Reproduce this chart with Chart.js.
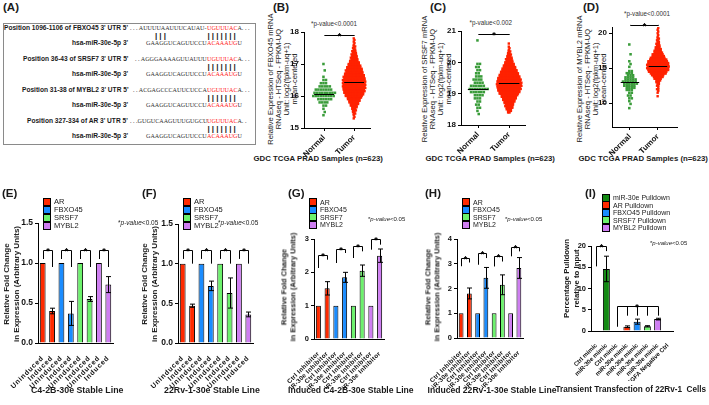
<!DOCTYPE html>
<html>
<head>
<meta charset="utf-8">
<script src="https://cdn.jsdelivr.net/npm/chart.js@4.4.1/dist/chart.umd.min.js"></script>
<style>
  body { margin: 0; background: #fff; }
  #fig { position: relative; width: 709px; height: 405px; overflow: hidden; font-family: "Liberation Sans", Arial, sans-serif; color: #1a1a1a; }
  #fig canvas { position: absolute; left: 0; top: 0; }
  .t { position: absolute; white-space: nowrap; line-height: 1; }
  .seq { font-family: "Liberation Serif", "Times New Roman", serif; font-size: 6.1px; color: #333; }
  .red { color: #ff2020; }
  .pipes { font-weight: bold; font-size: 8px; letter-spacing: 2.1px; }
  .box { position: absolute; left: 3px; top: 23px; width: 251px; height: 120px; border: 1px solid #8a8a8a; }
  .lg { position: absolute; width: 6px; height: 6px; border: 1px solid #000; }
</style>
</head>
<body>
<div id="fig"></div>
<script>
// ---- data ----
const genes = ['AR', 'FBXO45', 'SRSF7', 'MYBL2'];
const pulldownSeries = ['miR-30e Pulldown', 'AR Pulldown', 'FBXO45 Pulldown', 'SRSF7 Pulldown', 'MYBL2 Pulldown'];
const tcgaGroups = ['Normal', 'Tumor'];

// TCGA swarms: expression level rows and number of samples on each row
const fbxoNormalLevels = [17.0, 16.8, 16.6, 16.5, 16.4, 16.3, 16.2, 16.1, 16.0, 15.9, 15.8, 15.7, 15.6, 15.5, 15.4];
const fbxoNormalCounts = [1, 1, 1, 2, 3, 5, 7, 9, 9, 6, 4, 2, 1, 1, 1];
const fbxoTumorLevels = [15.30, 15.35, 15.40, 15.45, 15.50, 15.55, 15.60, 15.65, 15.70, 15.75,
  15.80, 15.85, 15.90, 15.95, 16.00, 16.05, 16.10, 16.15, 16.20, 16.25,
  16.30, 16.35, 16.40, 16.45, 16.50, 16.55, 16.60, 16.65, 16.70, 16.75,
  16.80, 16.85, 16.90, 16.95, 17.00, 17.05, 17.10, 17.15, 17.20, 17.25,
  17.30, 17.35, 17.40, 17.45, 17.50, 17.55, 17.60, 17.65, 17.70, 17.75, 17.80];
const fbxoTumorCounts = [1, 1, 1, 2, 2, 3, 3, 4, 5, 6,
  7, 8, 9, 10, 12, 13, 14, 15, 15, 16,
  16, 16, 16, 16, 16, 15, 15, 14, 13, 12,
  12, 11, 10, 9, 8, 7, 6, 5, 5, 4,
  4, 3, 3, 2, 2, 2, 1, 1, 1, 1, 1];
const fbxoMedians = [16.07, 16.43];

const srsfNormalLevels = [20.7, 19.95, 19.85, 19.75, 19.65, 19.55, 19.45, 19.35, 19.25, 19.15, 19.05, 18.95, 18.85, 18.75, 18.65, 18.55, 18.45, 18.35];
const srsfNormalCounts = [1, 2, 2, 2, 2, 3, 4, 4, 6, 8, 6, 4, 3, 2, 2, 2, 1, 1];
const srsfTumorLevels = [18.40, 18.45, 18.50, 18.55, 18.60, 18.65, 18.70, 18.75, 18.80, 18.85,
  18.90, 18.95, 19.00, 19.05, 19.10, 19.15, 19.20, 19.25, 19.30, 19.35,
  19.40, 19.45, 19.50, 19.55, 19.60, 19.65, 19.70, 19.75, 19.80, 19.85,
  19.90, 19.95, 20.00, 20.05, 20.10, 20.15, 20.20, 20.25, 20.30, 20.35,
  20.40, 20.45, 20.50, 20.55, 20.60];
const srsfTumorCounts = [2, 3, 4, 5, 6, 6, 7, 8, 9, 10,
  11, 12, 14, 15, 16, 17, 17, 18, 18, 18,
  17, 17, 16, 15, 14, 13, 12, 11, 10, 9,
  8, 7, 6, 5, 5, 4, 3, 3, 2, 2,
  1, 1, 1, 0, 1];
const srsfMedians = [19.15, 19.33];

const mybNormalLevels = [18.4, 17.0, 16.0, 15.6, 15.2, 14.6, 14.3, 14.0, 13.7, 13.4, 13.1, 12.8, 12.5, 12.2, 11.9, 11.5, 11.1, 10.7, 10.3, 9.9, 9.3];
const mybNormalCounts = [1, 1, 1, 1, 1, 2, 3, 3, 4, 5, 6, 6, 5, 4, 3, 2, 2, 2, 1, 1, 1];
const mybTumorLevels = [11.00, 11.25, 11.50, 11.75, 12.00, 12.25, 12.50, 12.75, 13.00, 13.25,
  13.50, 13.75, 14.00, 14.25, 14.50, 14.75, 15.00, 15.25, 15.50, 15.75,
  16.00, 16.25, 16.50, 16.75, 17.00, 17.25, 17.50, 17.75, 18.00, 18.25,
  18.50, 18.75, 19.00, 19.25, 19.50, 19.75, 20.00, 20.25, 20.50, 20.75];
const mybTumorCounts = [1, 0, 1, 1, 2, 1, 2, 2, 3, 4,
  6, 8, 10, 13, 15, 17, 18, 18, 18, 17,
  16, 14, 12, 10, 9, 7, 6, 5, 4, 3,
  3, 2, 2, 2, 1, 1, 1, 1, 1, 1];
const mybMedians = [13.04, 15.3];
const mybTicks = [10, 15, 20];

// qPCR bars
const stableLabels = ['Uninduced', 'Induced', 'Uninduced', 'Induced', 'Uninduced', 'Induced', 'Uninduced', 'Induced'];
const c42bStable = [1, 0.40, 1, 0.37, 1, 0.55, 1, 0.73];
const c42bStableErr = [0, 0.035, 0, 0.15, 0, 0.03, 0, 0.10];
const rv1Stable = [1, 0.47, 1, 0.72, 1, 0.63, 1, 0.36];
const rv1StableErr = [0, 0.02, 0, 0.06, 0, 0.19, 0, 0.03];

const inhibitorLabels = ['Ctrl Inhibitor', 'miR-30e Inhibitor', 'Ctrl Inhibitor', 'miR-30e Inhibitor',
  'Ctrl Inhibitor', 'miR-30e Inhibitor', 'Ctrl Inhibitor', 'miR-30e Inhibitor'];
const c42bInduced = [1, 1.52, 1, 1.85, 1, 2.05, 1, 2.50];
const c42bInducedErr = [0, 0.20, 0, 0.15, 0, 0.17, 0, 0.20];
const rv1Induced = [1, 1.80, 1, 2.43, 1, 2.15, 1, 2.83];
const rv1InducedErr = [0, 0.22, 0, 0.42, 0, 0.40, 0, 0.42];

const pulldownLabels = ['Ctrl mimic', 'miR-30e mimic', 'Ctrl mimic', 'miR-30e mimic', 'miR-30e mimic',
  'miR-30e mimic', 'miR-30e mimic', 'VEGFA Negative Ctrl'];
const pulldown = [0.1, 14.6, 0.1, 1.0, 2.2, 1.1, 2.8, 0.1];
const pulldownErr = [0, 3.0, 0, 0.2, 0.6, 0.15, 0.2, 0];

// ---- styles ----
const FONT = '"Liberation Sans", Arial, sans-serif';
const RED = '#ff2a00', BLUE = '#1a8cff', LGREEN = '#6cf26c', VIOLET = '#cf7ef2', DGREEN = '#148a14';
const geneColors = [RED, BLUE, LGREEN, VIOLET];
const pairColors = geneColors.flatMap(c => [c, c]);
const SC_GREEN = '#3a9c3a', SC_RED = '#ff2200';
const YW = 25, XH = 50;

const fig = document.getElementById('fig');

// place a text block: (x, y) is its left/centre/right edge and vertical middle
function put(html, x, y, o = {}) {
  const d = document.createElement('div');
  d.className = 't' + (o.cls ? ' ' + o.cls : '');
  d.innerHTML = html;
  if (o.size) d.style.fontSize = o.size + 'px';
  if (o.bold) d.style.fontWeight = 'bold';
  if (o.lh) d.style.lineHeight = o.lh + 'px';
  if (o.ta) d.style.textAlign = o.ta;
  if (o.color) d.style.color = o.color;
  fig.appendChild(d);
  const w = d.offsetWidth, h = d.offsetHeight;
  const k = {l: 0, c: 0.5, r: 1}[o.align || 'l'];
  d.style.left = (x - k * w) + 'px';
  d.style.top = (y - h / 2) + 'px';
  if (o.rot) d.style.transform = `rotate(${o.rot}deg)`;
  return d;
}

function legend(names, colors, x, y0, step, size) {
  names.forEach((n, i) => {
    const b = document.createElement('div');
    b.className = 'lg';
    b.style.left = x + 'px';
    b.style.top = (y0 + i * step - 4) + 'px';
    b.style.background = colors[i];
    fig.appendChild(b);
    put(n, x + 11, y0 + i * step, {size});
  });
}

function hline(ctx, x1, y1, x2, y2) {
  ctx.beginPath(); ctx.moveTo(x1, y1); ctx.lineTo(x2, y2); ctx.stroke();
}

// error bars, brackets and mean lines drawn through the chart scales
const marks = {
  id: 'marks',
  afterDatasetsDraw(chart, args, o) {
    const {ctx, scales: {x, y}} = chart;
    ctx.save();
    ctx.strokeStyle = '#000';
    ctx.fillStyle = '#000';
    ctx.lineWidth = 1;
    if (o.errors) {
      const meta = chart.getDatasetMeta(0);
      const vals = chart.data.datasets[0].data;
      o.errors.forEach((e, i) => {
        if (!e) return;
        const px = Math.round(meta.data[i].x) + 0.5;
        const t = y.getPixelForValue(vals[i] + e), b = y.getPixelForValue(vals[i] - e);
        hline(ctx, px, t, px, b);
        hline(ctx, px - o.cap, t, px + o.cap, t);
        hline(ctx, px - o.cap, b, px + o.cap, b);
      });
    }
    (o.medians || []).forEach((m, i) => {
      const py = Math.round(y.getPixelForValue(m)) + 0.5;
      hline(ctx, x.getPixelForValue(i + 1 - o.hw), py, x.getPixelForValue(i + 1 + o.hw), py);
    });
    ctx.font = 'bold 9px ' + FONT;
    ctx.textAlign = 'center';
    (o.brackets || []).forEach(br => {
      const top = Math.round(y.getPixelForValue(br.top)) + 0.5;
      const xs = br.at.map(v => Math.round(x.getPixelForValue(v)) + 0.5);
      hline(ctx, xs[0], top, xs[xs.length - 1], top);
      xs.forEach((px, k) => hline(ctx, px, top, px, y.getPixelForValue(br.ends[k])));
      const sx = br.star !== undefined ? x.getPixelForValue(br.star) : (xs[0] + xs[xs.length - 1]) / 2;
      ctx.fillText('*', sx, top + 3);
    });
    ctx.restore();
  }
};

// wider letter spacing for the category labels only (x ticks draw before the datasets)
const spacing = {
  id: 'spacing',
  beforeDraw(chart, args, o) { chart.ctx.letterSpacing = (o.px || 0) + 'px'; },
  beforeDatasetsDraw(chart) { chart.ctx.letterSpacing = '0px'; }
};

function newCanvas() {
  const c = document.createElement('canvas');
  c.width = 709; c.height = 405;
  fig.appendChild(c);
  return c;
}

function pad(a) {
  return {left: a.l - YW, top: a.t, right: 709 - a.r, bottom: 405 - a.b - XH};
}

function barPanel(a, labels, values, errors, colors, yMax, yStep, fmt, tickSize, labelSize, ls, brackets, barPct) {
  return new Chart(newCanvas(), {
    type: 'bar',
    data: {labels, datasets: [{data: values, backgroundColor: colors, borderColor: '#000', borderWidth: 1,
      barPercentage: barPct, categoryPercentage: 1}]},
    options: {
      responsive: false, animation: false, events: [],
      layout: {padding: pad(a)},
      plugins: {legend: {display: false}, tooltip: {enabled: false},
        marks: {errors, brackets, cap: 2.5}, spacing: {px: ls}},
      scales: {
        x: {
          grid: {display: false}, border: {color: '#000', width: 1},
          ticks: {minRotation: 45, maxRotation: 45, autoSkip: false, padding: 3, color: '#111',
            font: {family: FONT, size: labelSize, weight: 'bold'}},
          afterFit: s => { s.height = XH; s.paddingLeft = 0; s.paddingRight = 0; }
        },
        y: {
          min: 0, max: yMax,
          grid: {drawOnChartArea: false, tickLength: 3, color: '#000'}, border: {color: '#000', width: 1},
          ticks: {stepSize: yStep, callback: fmt, color: '#111', padding: 2, z: 1,
            font: {family: FONT, size: tickSize, weight: 'bold'}},
          afterFit: s => { s.width = YW; }
        }
      }
    },
    plugins: [spacing, marks]
  });
}

// beeswarm layout: samples of a row sit side by side, alternate rows nudged by a quarter step
function swarm(center, levels, counts, dx) {
  const pts = [];
  levels.forEach((v, i) => {
    const n = counts[i];
    const nudge = i % 2 ? 0.25 : -0.25;
    for (let k = 0; k < n; k++) pts.push({x: center + (k - (n - 1) / 2 + nudge) * dx, y: v});
  });
  return pts;
}

function swarmPanel(a, xr, yr, ticks, normal, tumor, medians, sigTop) {
  return new Chart(newCanvas(), {
    type: 'scatter',
    data: {datasets: [
      {data: swarm(1, normal[0], normal[1], normal[2]), backgroundColor: SC_GREEN, pointStyle: 'rect', pointRadius: 1.8, borderWidth: 0},
      {data: swarm(2, tumor[0], tumor[1], tumor[2]), backgroundColor: SC_RED, pointStyle: 'rect', pointRadius: 1.7, borderWidth: 0}
    ]},
    options: {
      responsive: false, animation: false, events: [],
      layout: {padding: pad(a)},
      plugins: {legend: {display: false}, tooltip: {enabled: false},
        marks: {medians, hw: 0.33, brackets: [{at: [1, 2], top: sigTop, ends: [sigTop, sigTop]}]}},
      scales: {
        x: {
          type: 'linear', min: xr[0], max: xr[1],
          afterBuildTicks: s => { s.ticks = [{value: 1}, {value: 2}]; },
          grid: {drawOnChartArea: false, tickLength: 3, color: '#000'}, border: {color: '#000', width: 1},
          ticks: {minRotation: 45, maxRotation: 45, autoSkip: false, padding: 2, color: '#111',
            callback: v => tcgaGroups[Math.round(v) - 1], font: {family: FONT, size: 8, weight: 'bold'}},
          afterFit: s => { s.height = XH; s.paddingLeft = 0; s.paddingRight = 0; }
        },
        y: {
          min: yr[0], max: yr[1],
          afterBuildTicks: s => { s.ticks = ticks.map(v => ({value: v})); },
          grid: {drawOnChartArea: false, tickLength: 3, color: '#000'}, border: {color: '#000', width: 1},
          ticks: {color: '#111', padding: 2, font: {family: FONT, size: 8, weight: 'bold'}},
          afterFit: s => { s.width = YW; }
        }
      }
    },
    plugins: [marks]
  });
}

// ---- panel A: target sites ----
put('(A)', 3, 8, {size: 11.5, bold: true});
const box = document.createElement('div');
box.className = 'box';
fig.appendChild(box);
const sites = [
  ["Position 1096-1106 of FBXO45 3' UTR 5'", '. . . AUUUUAAUUUCAUAU-', 'UGUUUAC', 'A. . .'],
  ["Position 36-43 of SRSF7 3' UTR 5'", '. . AGGGAAAAGUUAUUU', 'UGUUUAC', 'A. . .'],
  ["Position 31-38 of MYBL2 3' UTR 5'", '. . ACGAGCCCAUUCUCCA', 'UGUUUAC', 'A. . .'],
  ["Position 327-334 of AR 3' UTR 5'", '. . .GUGUCAAGUUUGUGCU', 'UGUUUAC', 'A. .']
];
sites.forEach((s, i) => {
  const y = 28 + i * 31;
  put(s[0], 128, y, {align: 'r', size: 6.6, bold: true});
  put(s[1], 207, y, {align: 'r', cls: 'seq'});
  put('<span class="red">' + s[2] + '</span>' + s[3], 207, y, {cls: 'seq'});
  put('|||||||', 207.5, y + 7.5, {cls: 'pipes'});
  put('hsa-miR-30e-5p 3\'', 128, y + 15, {align: 'r', size: 6.6, bold: true});
  put('GAAGGUCAGUUCCU', 207, y + 15, {align: 'r', cls: 'seq'});
  put('<span class="red">ACAAAUG</span>U', 207, y + 15, {cls: 'seq'});
});
put('|||', 155, 35.5, {cls: 'pipes'});

// ---- panels B-D: TCGA swarms ----
const tcgaTitle = ['RNAseq - HTSeq - FPKM-UQ', 'Unit: log2(fpkm-uq+1)', 'mean-centered'];
[['(B)', 273, 'FBXO45', 282, 334, 24, 'p-value<0.0001', 318],
 ['(C)', 430, 'SRSF7', 437, 491, 23, 'p-value<0.002', 490],
 ['(D)', 583, 'MYBL2', 591, 647, 14, 'p-value<0.0001', 643]].forEach(p => {
  put(p[0], p[1], 8, {size: 11.5, bold: true});
  put(['Relative Expression of ' + p[2] + ' mRNA'].concat(tcgaTitle).join('<br>'), p[3], 79,
    {align: 'c', rot: -90, size: 7.6, lh: 8, ta: 'center'});
  put('*' + p[6], p[4], p[5], {align: 'c', size: 6.3, color: '#333'});
  put('GDC TCGA PRAD Samples (n=623)', p[7], 159, {align: 'c', size: 7.8, bold: true});
});

swarmPanel({l: 304, t: 32, r: 370, b: 128}, [0.33, 2.53], [15, 18], [15, 16, 17, 18],
  [fbxoNormalLevels, fbxoNormalCounts, 0.085], [fbxoTumorLevels, fbxoTumorCounts, 0.048], fbxoMedians, 17.9);
swarmPanel({l: 461, t: 31, r: 525, b: 125}, [0.45, 2.51], [18, 21], [18, 19, 20, 21],
  [srsfNormalLevels, srsfNormalCounts, 0.082], [srsfTumorLevels, srsfTumorCounts, 0.045], srsfMedians, 20.9);
swarmPanel({l: 612, t: 27, r: 677, b: 127}, [0.36, 2.68], [6.6, 20.9], mybTicks,
  [mybNormalLevels, mybNormalCounts, 0.09], [mybTumorLevels, mybTumorCounts, 0.044], mybMedians, 21.2);

// ---- panels E-I: bar charts ----
const fold = 'Relative Fold Change<br>in Expression (Arbitrary Units)';
const pval = '*<i>p-value</i>&lt;0.05';
const pairs = (tops, ends) => tops.map((t, i) => ({at: [2 * i, 2 * i + 1], top: t, ends: ends[i]}));

put('(E)', 2, 194, {size: 11.5, bold: true});
legend(genes, geneColors, 43, 202, 8, 7.5);
put(pval, 118, 223, {size: 6.5});
put(fold, 12, 284, {align: 'c', rot: -90, size: 8, bold: true, lh: 10, ta: 'center'});
put('C4-2B-30e Stable Line', 77, 390, {align: 'c', size: 8.8, bold: true});
barPanel({l: 38, t: 223, r: 113, b: 343}, stableLabels, c42bStable, c42bStableErr, pairColors, 1.5, 0.5,
  v => v.toFixed(1), 8.5, 7, 0.8,
  pairs([1.16, 1.16, 1.16, 1.16], [[1.05, 0.95], [1.05, 0.95], [1.05, 0.95], [1.05, 0.95]]), 0.62);

put('(F)', 142, 194, {size: 11.5, bold: true});
legend(genes, geneColors, 183, 202, 8, 7.5);
put(pval, 218, 223, {size: 6.5});
put(fold, 150, 284, {align: 'c', rot: -90, size: 8, bold: true, lh: 10, ta: 'center'});
put('22Rv-1-30e Stable Line', 212, 390, {align: 'c', size: 8.8, bold: true});
barPanel({l: 178, t: 224, r: 253, b: 343}, stableLabels, rv1Stable, rv1StableErr, pairColors, 1.5, 0.5,
  v => v.toFixed(1), 8.5, 7, 0.8,
  pairs([1.17, 1.17, 1.17, 1.17], [[1.06, 1.0], [1.06, 1.0], [1.06, 1.0], [1.06, 1.0]]), 0.62);

put('(G)', 288, 194, {size: 11.5, bold: true});
legend(genes, geneColors, 309, 202, 7.5, 7);
put(pval, 368, 219, {size: 6});
put(fold, 288, 287, {align: 'c', rot: -90, size: 7.5, bold: true, lh: 9, ta: 'center'});
put('Induced C4-2B-30e Stable Line', 351, 390, {align: 'c', size: 8.6, bold: true});
barPanel({l: 314, t: 239, r: 384, b: 339}, inhibitorLabels, c42bInduced, c42bInducedErr, pairColors, 3, 1,
  v => v, 7.5, 6.3, 0.35,
  pairs([2.53, 2.71, 2.78, 3.0], [[2.13, 2.38], [2.28, 2.58], [2.43, 2.63], [2.68, 2.83]]), 0.58);

put('(H)', 425, 194, {size: 11.5, bold: true});
legend(genes, geneColors, 462, 202, 7.5, 7);
put(pval, 505, 219, {size: 6});
put(fold, 432, 287, {align: 'c', rot: -90, size: 7.5, bold: true, lh: 9, ta: 'center'});
put('Induced 22Rv-1-30e Stable Line', 492, 390, {align: 'c', size: 8.6, bold: true});
barPanel({l: 457, t: 239, r: 523, b: 338}, inhibitorLabels, rv1Induced, rv1InducedErr, pairColors, 4, 1,
  v => v, 7.5, 6.3, 0.35,
  pairs([3.25, 3.43, 3.3, 3.66], [[2.9, 3.05], [2.96, 3.23], [2.89, 3.09], [3.3, 3.5]]), 0.58);

put('(I)', 585, 194, {size: 11.5, bold: true});
legend(pulldownSeries, [DGREEN].concat(geneColors), 602, 197.5, 7.5, 7);
put(pval, 650, 243, {size: 6});
put('Percentage Pulldown<br>relative to Input', 571, 278, {align: 'c', rot: -90, size: 7.8, bold: true, lh: 9.5, ta: 'center'});
put('Transient Transfection of 22Rv-1&nbsp; Cells', 631, 390, {align: 'c', size: 8.2, bold: true});
barPanel({l: 591, t: 246, r: 673, b: 331}, pulldownLabels, pulldown, pulldownErr,
  [DGREEN, DGREEN, '#fff', RED, BLUE, LGREEN, VIOLET, '#fff'], 20, 5,
  v => v, 7.5, 6.1, 0,
  [{at: [0, 1], top: 20, ends: [15.2, 18.8]},
   {at: [2, 3, 4, 5, 6], top: 6.0, ends: [1.0, 3.6, 3.6, 3.6, 3.6], star: 4}], 0.68);
</script>
</body>
</html>
